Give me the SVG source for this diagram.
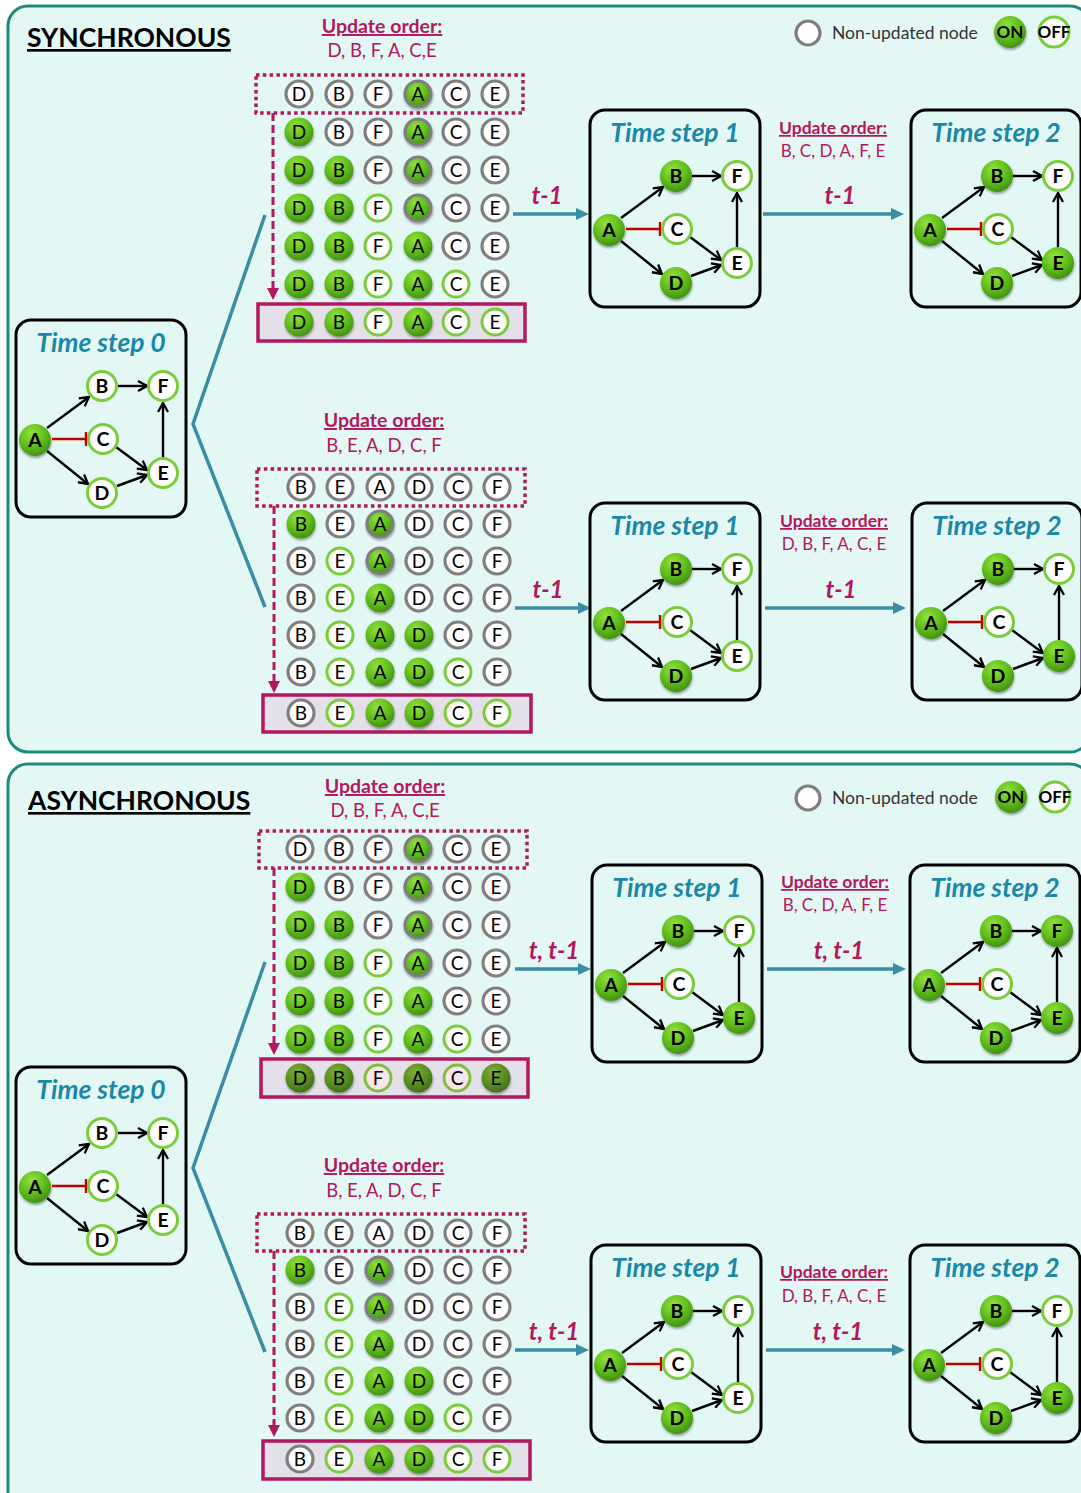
<svg xmlns="http://www.w3.org/2000/svg" width="1081" height="1493" viewBox="0 0 1081 1493">
<defs>
  <radialGradient id="gOn" cx="40%" cy="30%" r="75%">
    <stop offset="0" stop-color="#92e23e"/>
    <stop offset="0.55" stop-color="#60bd1c"/>
    <stop offset="1" stop-color="#3d8c10"/>
  </radialGradient>
  <radialGradient id="gDim" cx="40%" cy="30%" r="75%">
    <stop offset="0" stop-color="#7fae3a"/>
    <stop offset="0.55" stop-color="#5a8f22"/>
    <stop offset="1" stop-color="#3f6c17"/>
  </radialGradient>
  <filter id="sh" x="-30%" y="-30%" width="160%" height="170%">
    <feDropShadow dx="0.5" dy="2" stdDeviation="1.3" flood-color="#000" flood-opacity="0.35"/>
  </filter>
  <marker id="ah" viewBox="0 0 12 12" refX="10.5" refY="6" markerWidth="12" markerHeight="12" markerUnits="userSpaceOnUse" orient="auto">
    <path d="M1.5,1 L10.5,6 L1.5,11" fill="none" stroke="#000" stroke-width="2.3"/>
  </marker>
  <marker id="tah" viewBox="0 0 13 12" refX="1" refY="6" markerWidth="13" markerHeight="12" markerUnits="userSpaceOnUse" orient="auto">
    <path d="M0,0 L13,6 L0,12 z" fill="#3a8da6"/>
  </marker>
  <marker id="dah" viewBox="0 0 12 12" refX="1" refY="6" markerWidth="12" markerHeight="12" markerUnits="userSpaceOnUse" orient="auto">
    <path d="M0,0 L12,6 L0,12 z" fill="#b3175d"/>
  </marker>
  <style>
    .panel{fill:#e3f8f5;stroke:#1e8a7c;stroke-width:3}
    .head{font-family:Lato,"Liberation Sans",sans-serif;font-weight:bold;font-size:26.5px;fill:#000;text-decoration:underline}
    .lg{font-family:Lato,"Liberation Sans",sans-serif;font-size:17.5px;fill:#333}
    .lgb{font-family:Lato,"Liberation Sans",sans-serif;font-weight:bold;font-size:17px;fill:#000;text-anchor:middle}
    .on{fill:url(#gOn);filter:url(#sh)}
    .dim{fill:url(#gDim);filter:url(#sh)}
    .off{fill:#fff;stroke:#7acc3a;stroke-width:3}
    .offd{fill:#f8e4ee;stroke:#7fbf3a;stroke-width:3}
    .nu{fill:#fff;stroke:#7f7f7f;stroke-width:3.2}
    .nuon{fill:url(#gOn);stroke:#7f7f7f;stroke-width:3.2;filter:url(#sh)}
    .grid text{font-family:Lato,"Liberation Sans",sans-serif;font-size:19px;fill:#000;text-anchor:middle}
    .node text{font-family:Lato,"Liberation Sans",sans-serif;font-weight:bold;font-size:19.5px;fill:#000;text-anchor:middle}
    .box{fill:none;stroke:#000;stroke-width:3}
    .ttl{font-family:Lato,"Liberation Sans",sans-serif;font-style:italic;font-weight:bold;font-size:26.5px;fill:#1a88a6;text-anchor:middle}
    .uo{font-family:Lato,"Liberation Sans",sans-serif;font-weight:bold;font-size:19.5px;fill:#b3175d;text-anchor:middle;text-decoration:underline}
    .seq{font-family:Lato,"Liberation Sans",sans-serif;font-size:18.5px;fill:#b3175d;text-anchor:middle}
    .uo2{font-family:Lato,"Liberation Sans",sans-serif;font-weight:bold;font-size:17.5px;fill:#b3175d;text-anchor:middle;text-decoration:underline}
    .seq2{font-family:Lato,"Liberation Sans",sans-serif;font-size:17px;fill:#b3175d;text-anchor:middle}
    .tl{font-family:Lato,"Liberation Sans",sans-serif;font-style:italic;font-weight:bold;font-size:24px;fill:#b3175d;text-anchor:middle}
    .teal{fill:none;stroke:#3a8da6;stroke-width:3.5}
    .edge{fill:none;stroke:#000;stroke-width:2.4;marker-end:url(#ah)}
    .inh{fill:none;stroke:#c00000;stroke-width:2.4}
    .dot{fill:none;stroke:#b3175d;stroke-width:3.5;stroke-dasharray:3.5 3.3}
    .sel{fill:#e4e0ea;stroke:#b3175d;stroke-width:3.5}
    .darr{fill:none;stroke:#b3175d;stroke-width:3;stroke-dasharray:8 4;marker-end:url(#dah)}
  </style>
</defs>

<!-- panels -->
<rect class="panel" x="8" y="6" width="1082" height="746" rx="20"/>
<rect class="panel" x="8" y="764" width="1082" height="760" rx="20"/>

<text class="head" x="27" y="47">SYNCHRONOUS</text>
<text class="head" x="28" y="810">ASYNCHRONOUS</text>

<!-- legends -->
<g id="legend-sync">
  <circle class="nu" cx="808" cy="33" r="12"/>
  <text class="lg" x="832" y="39">Non-updated node</text>
  <circle class="on" cx="1010" cy="32" r="16"/>
  <text class="lgb" x="1010" y="38">ON</text>
  <circle class="off" cx="1054" cy="32" r="15"/>
  <text class="lgb" x="1054" y="38">OFF</text>
</g>
<g id="legend-async">
  <circle class="nu" cx="808" cy="798" r="12"/>
  <text class="lg" x="832" y="804">Non-updated node</text>
  <circle class="on" cx="1011" cy="797" r="16"/>
  <text class="lgb" x="1011" y="803">ON</text>
  <circle class="off" cx="1055" cy="797" r="15"/>
  <text class="lgb" x="1055" y="803">OFF</text>
</g>

<!-- connectors -->
<g id="connectors">
  <path class="teal" d="M265,215 L193,424 L265,607"/>
  <path class="teal" d="M265,962 L193,1168 L265,1352"/>
  <path class="teal" d="M513,214 H577" marker-end="url(#tah)"/>
  <path class="teal" d="M763,214 H892" marker-end="url(#tah)"/>
  <path class="teal" d="M515,608 H579" marker-end="url(#tah)"/>
  <path class="teal" d="M765,608 H894" marker-end="url(#tah)"/>
  <path class="teal" d="M515,969 H579" marker-end="url(#tah)"/>
  <path class="teal" d="M767,969 H894" marker-end="url(#tah)"/>
  <path class="teal" d="M515,1350 H577" marker-end="url(#tah)"/>
  <path class="teal" d="M766,1350 H893" marker-end="url(#tah)"/>
  <path class="darr" d="M273,113 V289"/>
  <path class="darr" d="M274,506 V682"/>
  <path class="darr" d="M274,868 V1044"/>
  <path class="darr" d="M274,1251 V1426"/>
</g>

<!-- connector labels -->
<g id="labels">
  <text class="tl" x="547" y="204">t-1</text>
  <text class="tl" x="840" y="204">t-1</text>
  <text class="tl" x="548" y="598">t-1</text>
  <text class="tl" x="841" y="598">t-1</text>
  <text class="tl" x="554" y="959">t, t-1</text>
  <text class="tl" x="839" y="959">t, t-1</text>
  <text class="tl" x="554" y="1340">t, t-1</text>
  <text class="tl" x="838" y="1340">t, t-1</text>

  <text class="uo" x="382" y="33">Update order:</text>
  <text class="seq" x="382" y="57">D, B, F, A, C,E</text>
  <text class="uo" x="384" y="427">Update order:</text>
  <text class="seq" x="384" y="452">B, E, A, D, C, F</text>
  <text class="uo" x="385" y="793">Update order:</text>
  <text class="seq" x="385" y="817">D, B, F, A, C,E</text>
  <text class="uo" x="384" y="1172">Update order:</text>
  <text class="seq" x="384" y="1197">B, E, A, D, C, F</text>

  <text class="uo2" x="833" y="134">Update order:</text>
  <text class="seq2" x="833" y="157">B, C, D, A, F, E</text>
  <text class="uo2" x="834" y="527">Update order:</text>
  <text class="seq2" x="834" y="550">D, B, F, A, C, E</text>
  <text class="uo2" x="835" y="888">Update order:</text>
  <text class="seq2" x="835" y="911">B, C, D, A, F, E</text>
  <text class="uo2" x="834" y="1278">Update order:</text>
  <text class="seq2" x="834" y="1302">D, B, F, A, C, E</text>
</g>

<!-- synchronous, order D B F A C E -->
<g id="grid-sync-1" class="grid">
  <rect class="dot" x="256" y="75" width="267" height="38"/>
  <rect class="sel" x="258" y="304" width="267" height="37"/>
  <g transform="translate(0,94)">
    <circle class="nu" cx="299" r="13"/><text x="299" y="7">D</text>
    <circle class="nu" cx="339" r="13"/><text x="339" y="7">B</text>
    <circle class="nu" cx="378" r="13"/><text x="378" y="7">F</text>
    <circle class="nuon" cx="418" r="13"/><text x="418" y="7">A</text>
    <circle class="nu" cx="456" r="13"/><text x="456" y="7">C</text>
    <circle class="nu" cx="495" r="13"/><text x="495" y="7">E</text>
  </g>
  <g transform="translate(0,132)">
    <circle class="on" cx="299" r="14.5"/><text x="299" y="7">D</text>
    <circle class="nu" cx="339" r="13"/><text x="339" y="7">B</text>
    <circle class="nu" cx="378" r="13"/><text x="378" y="7">F</text>
    <circle class="nuon" cx="418" r="13"/><text x="418" y="7">A</text>
    <circle class="nu" cx="456" r="13"/><text x="456" y="7">C</text>
    <circle class="nu" cx="495" r="13"/><text x="495" y="7">E</text>
  </g>
  <g transform="translate(0,170)">
    <circle class="on" cx="299" r="14.5"/><text x="299" y="7">D</text>
    <circle class="on" cx="339" r="14.5"/><text x="339" y="7">B</text>
    <circle class="nu" cx="378" r="13"/><text x="378" y="7">F</text>
    <circle class="nuon" cx="418" r="13"/><text x="418" y="7">A</text>
    <circle class="nu" cx="456" r="13"/><text x="456" y="7">C</text>
    <circle class="nu" cx="495" r="13"/><text x="495" y="7">E</text>
  </g>
  <g transform="translate(0,208)">
    <circle class="on" cx="299" r="14.5"/><text x="299" y="7">D</text>
    <circle class="on" cx="339" r="14.5"/><text x="339" y="7">B</text>
    <circle class="off" cx="378" r="13"/><text x="378" y="7">F</text>
    <circle class="nuon" cx="418" r="13"/><text x="418" y="7">A</text>
    <circle class="nu" cx="456" r="13"/><text x="456" y="7">C</text>
    <circle class="nu" cx="495" r="13"/><text x="495" y="7">E</text>
  </g>
  <g transform="translate(0,246)">
    <circle class="on" cx="299" r="14.5"/><text x="299" y="7">D</text>
    <circle class="on" cx="339" r="14.5"/><text x="339" y="7">B</text>
    <circle class="off" cx="378" r="13"/><text x="378" y="7">F</text>
    <circle class="on" cx="418" r="14.5"/><text x="418" y="7">A</text>
    <circle class="nu" cx="456" r="13"/><text x="456" y="7">C</text>
    <circle class="nu" cx="495" r="13"/><text x="495" y="7">E</text>
  </g>
  <g transform="translate(0,284)">
    <circle class="on" cx="299" r="14.5"/><text x="299" y="7">D</text>
    <circle class="on" cx="339" r="14.5"/><text x="339" y="7">B</text>
    <circle class="off" cx="378" r="13"/><text x="378" y="7">F</text>
    <circle class="on" cx="418" r="14.5"/><text x="418" y="7">A</text>
    <circle class="off" cx="456" r="13"/><text x="456" y="7">C</text>
    <circle class="nu" cx="495" r="13"/><text x="495" y="7">E</text>
  </g>
  <g transform="translate(0,322)">
    <circle class="on" cx="299" r="14.5"/><text x="299" y="7">D</text>
    <circle class="on" cx="339" r="14.5"/><text x="339" y="7">B</text>
    <circle class="off" cx="378" r="13"/><text x="378" y="7">F</text>
    <circle class="on" cx="418" r="14.5"/><text x="418" y="7">A</text>
    <circle class="off" cx="456" r="13"/><text x="456" y="7">C</text>
    <circle class="off" cx="495" r="13"/><text x="495" y="7">E</text>
  </g>
</g>

<!-- synchronous, order B E A D C F -->
<g id="grid-sync-2" class="grid">
  <rect class="dot" x="257" y="469" width="268" height="37"/>
  <rect class="sel" x="263" y="695" width="268" height="37"/>
  <g transform="translate(0,487)">
    <circle class="nu" cx="301" r="13"/><text x="301" y="7">B</text>
    <circle class="nu" cx="340" r="13"/><text x="340" y="7">E</text>
    <circle class="nu" cx="380" r="13"/><text x="380" y="7">A</text>
    <circle class="nu" cx="419" r="13"/><text x="419" y="7">D</text>
    <circle class="nu" cx="458" r="13"/><text x="458" y="7">C</text>
    <circle class="nu" cx="497" r="13"/><text x="497" y="7">F</text>
  </g>
  <g transform="translate(0,524)">
    <circle class="on" cx="301" r="14.5"/><text x="301" y="7">B</text>
    <circle class="nu" cx="340" r="13"/><text x="340" y="7">E</text>
    <circle class="nuon" cx="380" r="13"/><text x="380" y="7">A</text>
    <circle class="nu" cx="419" r="13"/><text x="419" y="7">D</text>
    <circle class="nu" cx="458" r="13"/><text x="458" y="7">C</text>
    <circle class="nu" cx="497" r="13"/><text x="497" y="7">F</text>
  </g>
  <g transform="translate(0,561)">
    <circle class="nu" cx="301" r="13"/><text x="301" y="7">B</text>
    <circle class="off" cx="340" r="13"/><text x="340" y="7">E</text>
    <circle class="nuon" cx="380" r="13"/><text x="380" y="7">A</text>
    <circle class="nu" cx="419" r="13"/><text x="419" y="7">D</text>
    <circle class="nu" cx="458" r="13"/><text x="458" y="7">C</text>
    <circle class="nu" cx="497" r="13"/><text x="497" y="7">F</text>
  </g>
  <g transform="translate(0,598)">
    <circle class="nu" cx="301" r="13"/><text x="301" y="7">B</text>
    <circle class="off" cx="340" r="13"/><text x="340" y="7">E</text>
    <circle class="on" cx="380" r="14.5"/><text x="380" y="7">A</text>
    <circle class="nu" cx="419" r="13"/><text x="419" y="7">D</text>
    <circle class="nu" cx="458" r="13"/><text x="458" y="7">C</text>
    <circle class="nu" cx="497" r="13"/><text x="497" y="7">F</text>
  </g>
  <g transform="translate(0,635)">
    <circle class="nu" cx="301" r="13"/><text x="301" y="7">B</text>
    <circle class="off" cx="340" r="13"/><text x="340" y="7">E</text>
    <circle class="on" cx="380" r="14.5"/><text x="380" y="7">A</text>
    <circle class="on" cx="419" r="14.5"/><text x="419" y="7">D</text>
    <circle class="nu" cx="458" r="13"/><text x="458" y="7">C</text>
    <circle class="nu" cx="497" r="13"/><text x="497" y="7">F</text>
  </g>
  <g transform="translate(0,672)">
    <circle class="nu" cx="301" r="13"/><text x="301" y="7">B</text>
    <circle class="off" cx="340" r="13"/><text x="340" y="7">E</text>
    <circle class="on" cx="380" r="14.5"/><text x="380" y="7">A</text>
    <circle class="on" cx="419" r="14.5"/><text x="419" y="7">D</text>
    <circle class="off" cx="458" r="13"/><text x="458" y="7">C</text>
    <circle class="nu" cx="497" r="13"/><text x="497" y="7">F</text>
  </g>
  <g transform="translate(0,713)">
    <circle class="nu" cx="301" r="13"/><text x="301" y="7">B</text>
    <circle class="off" cx="340" r="13"/><text x="340" y="7">E</text>
    <circle class="on" cx="380" r="14.5"/><text x="380" y="7">A</text>
    <circle class="on" cx="419" r="14.5"/><text x="419" y="7">D</text>
    <circle class="off" cx="458" r="13"/><text x="458" y="7">C</text>
    <circle class="off" cx="497" r="13"/><text x="497" y="7">F</text>
  </g>
</g>

<!-- asynchronous, order D B F A C E -->
<g id="grid-async-1" class="grid">
  <rect class="dot" x="259" y="831" width="268" height="37"/>
  <rect class="sel" x="261" y="1059" width="267" height="38"/>
  <g transform="translate(0,849)">
    <circle class="nu" cx="300" r="13"/><text x="300" y="7">D</text>
    <circle class="nu" cx="339" r="13"/><text x="339" y="7">B</text>
    <circle class="nu" cx="378" r="13"/><text x="378" y="7">F</text>
    <circle class="nuon" cx="418" r="13"/><text x="418" y="7">A</text>
    <circle class="nu" cx="457" r="13"/><text x="457" y="7">C</text>
    <circle class="nu" cx="496" r="13"/><text x="496" y="7">E</text>
  </g>
  <g transform="translate(0,887)">
    <circle class="on" cx="300" r="14.5"/><text x="300" y="7">D</text>
    <circle class="nu" cx="339" r="13"/><text x="339" y="7">B</text>
    <circle class="nu" cx="378" r="13"/><text x="378" y="7">F</text>
    <circle class="nuon" cx="418" r="13"/><text x="418" y="7">A</text>
    <circle class="nu" cx="457" r="13"/><text x="457" y="7">C</text>
    <circle class="nu" cx="496" r="13"/><text x="496" y="7">E</text>
  </g>
  <g transform="translate(0,925)">
    <circle class="on" cx="300" r="14.5"/><text x="300" y="7">D</text>
    <circle class="on" cx="339" r="14.5"/><text x="339" y="7">B</text>
    <circle class="nu" cx="378" r="13"/><text x="378" y="7">F</text>
    <circle class="nuon" cx="418" r="13"/><text x="418" y="7">A</text>
    <circle class="nu" cx="457" r="13"/><text x="457" y="7">C</text>
    <circle class="nu" cx="496" r="13"/><text x="496" y="7">E</text>
  </g>
  <g transform="translate(0,963)">
    <circle class="on" cx="300" r="14.5"/><text x="300" y="7">D</text>
    <circle class="on" cx="339" r="14.5"/><text x="339" y="7">B</text>
    <circle class="off" cx="378" r="13"/><text x="378" y="7">F</text>
    <circle class="nuon" cx="418" r="13"/><text x="418" y="7">A</text>
    <circle class="nu" cx="457" r="13"/><text x="457" y="7">C</text>
    <circle class="nu" cx="496" r="13"/><text x="496" y="7">E</text>
  </g>
  <g transform="translate(0,1001)">
    <circle class="on" cx="300" r="14.5"/><text x="300" y="7">D</text>
    <circle class="on" cx="339" r="14.5"/><text x="339" y="7">B</text>
    <circle class="off" cx="378" r="13"/><text x="378" y="7">F</text>
    <circle class="on" cx="418" r="14.5"/><text x="418" y="7">A</text>
    <circle class="nu" cx="457" r="13"/><text x="457" y="7">C</text>
    <circle class="nu" cx="496" r="13"/><text x="496" y="7">E</text>
  </g>
  <g transform="translate(0,1039)">
    <circle class="on" cx="300" r="14.5"/><text x="300" y="7">D</text>
    <circle class="on" cx="339" r="14.5"/><text x="339" y="7">B</text>
    <circle class="off" cx="378" r="13"/><text x="378" y="7">F</text>
    <circle class="on" cx="418" r="14.5"/><text x="418" y="7">A</text>
    <circle class="off" cx="457" r="13"/><text x="457" y="7">C</text>
    <circle class="nu" cx="496" r="13"/><text x="496" y="7">E</text>
  </g>
  <g transform="translate(0,1078)">
    <circle class="dim" cx="300" r="14.5"/><text x="300" y="7">D</text>
    <circle class="dim" cx="339" r="14.5"/><text x="339" y="7">B</text>
    <circle class="offd" cx="378" r="13"/><text x="378" y="7">F</text>
    <circle class="dim" cx="418" r="14.5"/><text x="418" y="7">A</text>
    <circle class="offd" cx="457" r="13"/><text x="457" y="7">C</text>
    <circle class="dim" cx="496" r="14.5"/><text x="496" y="7">E</text>
  </g>
</g>

<!-- asynchronous, order B E A D C F -->
<g id="grid-async-2" class="grid">
  <rect class="dot" x="257" y="1214" width="268" height="37"/>
  <rect class="sel" x="263" y="1441" width="267" height="38"/>
  <g transform="translate(0,1233)">
    <circle class="nu" cx="300" r="13"/><text x="300" y="7">B</text>
    <circle class="nu" cx="339" r="13"/><text x="339" y="7">E</text>
    <circle class="nu" cx="379" r="13"/><text x="379" y="7">A</text>
    <circle class="nu" cx="419" r="13"/><text x="419" y="7">D</text>
    <circle class="nu" cx="458" r="13"/><text x="458" y="7">C</text>
    <circle class="nu" cx="497" r="13"/><text x="497" y="7">F</text>
  </g>
  <g transform="translate(0,1270)">
    <circle class="on" cx="300" r="14.5"/><text x="300" y="7">B</text>
    <circle class="nu" cx="339" r="13"/><text x="339" y="7">E</text>
    <circle class="nuon" cx="379" r="13"/><text x="379" y="7">A</text>
    <circle class="nu" cx="419" r="13"/><text x="419" y="7">D</text>
    <circle class="nu" cx="458" r="13"/><text x="458" y="7">C</text>
    <circle class="nu" cx="497" r="13"/><text x="497" y="7">F</text>
  </g>
  <g transform="translate(0,1307)">
    <circle class="nu" cx="300" r="13"/><text x="300" y="7">B</text>
    <circle class="off" cx="339" r="13"/><text x="339" y="7">E</text>
    <circle class="nuon" cx="379" r="13"/><text x="379" y="7">A</text>
    <circle class="nu" cx="419" r="13"/><text x="419" y="7">D</text>
    <circle class="nu" cx="458" r="13"/><text x="458" y="7">C</text>
    <circle class="nu" cx="497" r="13"/><text x="497" y="7">F</text>
  </g>
  <g transform="translate(0,1344)">
    <circle class="nu" cx="300" r="13"/><text x="300" y="7">B</text>
    <circle class="off" cx="339" r="13"/><text x="339" y="7">E</text>
    <circle class="on" cx="379" r="14.5"/><text x="379" y="7">A</text>
    <circle class="nu" cx="419" r="13"/><text x="419" y="7">D</text>
    <circle class="nu" cx="458" r="13"/><text x="458" y="7">C</text>
    <circle class="nu" cx="497" r="13"/><text x="497" y="7">F</text>
  </g>
  <g transform="translate(0,1381)">
    <circle class="nu" cx="300" r="13"/><text x="300" y="7">B</text>
    <circle class="off" cx="339" r="13"/><text x="339" y="7">E</text>
    <circle class="on" cx="379" r="14.5"/><text x="379" y="7">A</text>
    <circle class="on" cx="419" r="14.5"/><text x="419" y="7">D</text>
    <circle class="nu" cx="458" r="13"/><text x="458" y="7">C</text>
    <circle class="nu" cx="497" r="13"/><text x="497" y="7">F</text>
  </g>
  <g transform="translate(0,1418)">
    <circle class="nu" cx="300" r="13"/><text x="300" y="7">B</text>
    <circle class="off" cx="339" r="13"/><text x="339" y="7">E</text>
    <circle class="on" cx="379" r="14.5"/><text x="379" y="7">A</text>
    <circle class="on" cx="419" r="14.5"/><text x="419" y="7">D</text>
    <circle class="off" cx="458" r="13"/><text x="458" y="7">C</text>
    <circle class="nu" cx="497" r="13"/><text x="497" y="7">F</text>
  </g>
  <g transform="translate(0,1459)">
    <circle class="nu" cx="300" r="13"/><text x="300" y="7">B</text>
    <circle class="off" cx="339" r="13"/><text x="339" y="7">E</text>
    <circle class="on" cx="379" r="14.5"/><text x="379" y="7">A</text>
    <circle class="on" cx="419" r="14.5"/><text x="419" y="7">D</text>
    <circle class="off" cx="458" r="13"/><text x="458" y="7">C</text>
    <circle class="off" cx="497" r="13"/><text x="497" y="7">F</text>
  </g>
</g>

<!-- network snapshots: edges first, then nodes -->
<g id="sync-ts0" transform="translate(16,320)">
  <rect class="box" width="170" height="197" rx="15"/>
  <text class="ttl" x="85" y="32">Time step 0</text>
  <g class="edges">
    <path class="edge" d="M31,108 L73,77"/><path class="edge" d="M102,66 H131"/>
    <path class="inh" d="M36,119 H70 M70,112 V126"/><path class="edge" d="M31,131 L72,164"/>
    <path class="edge" d="M100,127 L131,150"/><path class="edge" d="M101,166 L131,155"/>
    <path class="edge" d="M147,137 V83"/>
  </g>
  <g id="s0-A" class="node"><circle class="on" cx="19" cy="120" r="16"/><text x="19" y="127">A</text></g>
  <g id="s0-B" class="node"><circle class="off" cx="86" cy="66" r="14.5"/><text x="86" y="73">B</text></g>
  <g id="s0-F" class="node"><circle class="off" cx="147" cy="66" r="14.5"/><text x="147" y="73">F</text></g>
  <g id="s0-C" class="node"><circle class="off" cx="87" cy="119" r="14.5"/><text x="87" y="126">C</text></g>
  <g id="s0-E" class="node"><circle class="off" cx="147" cy="153" r="14.5"/><text x="147" y="160">E</text></g>
  <g id="s0-D" class="node"><circle class="off" cx="86" cy="173" r="14.5"/><text x="86" y="180">D</text></g>
</g>

<g id="sync-ts1a" transform="translate(590,110)">
  <rect class="box" width="170" height="197" rx="15"/>
  <text class="ttl" x="85" y="32">Time step 1</text>
  <g class="edges">
    <path class="edge" d="M31,108 L73,77"/><path class="edge" d="M102,66 H131"/>
    <path class="inh" d="M36,119 H70 M70,112 V126"/><path class="edge" d="M31,131 L72,164"/>
    <path class="edge" d="M100,127 L131,150"/><path class="edge" d="M101,166 L131,155"/>
    <path class="edge" d="M147,137 V83"/>
  </g>
  <g id="s1a-A" class="node"><circle class="on" cx="19" cy="120" r="16"/><text x="19" y="127">A</text></g>
  <g id="s1a-B" class="node"><circle class="on" cx="86" cy="66" r="16"/><text x="86" y="73">B</text></g>
  <g id="s1a-F" class="node"><circle class="off" cx="147" cy="66" r="14.5"/><text x="147" y="73">F</text></g>
  <g id="s1a-C" class="node"><circle class="off" cx="87" cy="119" r="14.5"/><text x="87" y="126">C</text></g>
  <g id="s1a-E" class="node"><circle class="off" cx="147" cy="153" r="14.5"/><text x="147" y="160">E</text></g>
  <g id="s1a-D" class="node"><circle class="on" cx="86" cy="173" r="16"/><text x="86" y="180">D</text></g>
</g>

<g id="sync-ts2a" transform="translate(911,110)">
  <rect class="box" width="170" height="197" rx="15"/>
  <text class="ttl" x="85" y="32">Time step 2</text>
  <g class="edges">
    <path class="edge" d="M31,108 L73,77"/><path class="edge" d="M102,66 H131"/>
    <path class="inh" d="M36,119 H70 M70,112 V126"/><path class="edge" d="M31,131 L72,164"/>
    <path class="edge" d="M100,127 L131,150"/><path class="edge" d="M101,166 L131,155"/>
    <path class="edge" d="M147,137 V83"/>
  </g>
  <g id="s2a-A" class="node"><circle class="on" cx="19" cy="120" r="16"/><text x="19" y="127">A</text></g>
  <g id="s2a-B" class="node"><circle class="on" cx="86" cy="66" r="16"/><text x="86" y="73">B</text></g>
  <g id="s2a-F" class="node"><circle class="off" cx="147" cy="66" r="14.5"/><text x="147" y="73">F</text></g>
  <g id="s2a-C" class="node"><circle class="off" cx="87" cy="119" r="14.5"/><text x="87" y="126">C</text></g>
  <g id="s2a-E" class="node"><circle class="on" cx="147" cy="153" r="16"/><text x="147" y="160">E</text></g>
  <g id="s2a-D" class="node"><circle class="on" cx="86" cy="173" r="16"/><text x="86" y="180">D</text></g>
</g>

<g id="sync-ts1b" transform="translate(590,503)">
  <rect class="box" width="170" height="197" rx="15"/>
  <text class="ttl" x="85" y="32">Time step 1</text>
  <g class="edges">
    <path class="edge" d="M31,108 L73,77"/><path class="edge" d="M102,66 H131"/>
    <path class="inh" d="M36,119 H70 M70,112 V126"/><path class="edge" d="M31,131 L72,164"/>
    <path class="edge" d="M100,127 L131,150"/><path class="edge" d="M101,166 L131,155"/>
    <path class="edge" d="M147,137 V83"/>
  </g>
  <g id="s1b-A" class="node"><circle class="on" cx="19" cy="120" r="16"/><text x="19" y="127">A</text></g>
  <g id="s1b-B" class="node"><circle class="on" cx="86" cy="66" r="16"/><text x="86" y="73">B</text></g>
  <g id="s1b-F" class="node"><circle class="off" cx="147" cy="66" r="14.5"/><text x="147" y="73">F</text></g>
  <g id="s1b-C" class="node"><circle class="off" cx="87" cy="119" r="14.5"/><text x="87" y="126">C</text></g>
  <g id="s1b-E" class="node"><circle class="off" cx="147" cy="153" r="14.5"/><text x="147" y="160">E</text></g>
  <g id="s1b-D" class="node"><circle class="on" cx="86" cy="173" r="16"/><text x="86" y="180">D</text></g>
</g>

<g id="sync-ts2b" transform="translate(912,503)">
  <rect class="box" width="170" height="197" rx="15"/>
  <text class="ttl" x="85" y="32">Time step 2</text>
  <g class="edges">
    <path class="edge" d="M31,108 L73,77"/><path class="edge" d="M102,66 H131"/>
    <path class="inh" d="M36,119 H70 M70,112 V126"/><path class="edge" d="M31,131 L72,164"/>
    <path class="edge" d="M100,127 L131,150"/><path class="edge" d="M101,166 L131,155"/>
    <path class="edge" d="M147,137 V83"/>
  </g>
  <g id="s2b-A" class="node"><circle class="on" cx="19" cy="120" r="16"/><text x="19" y="127">A</text></g>
  <g id="s2b-B" class="node"><circle class="on" cx="86" cy="66" r="16"/><text x="86" y="73">B</text></g>
  <g id="s2b-F" class="node"><circle class="off" cx="147" cy="66" r="14.5"/><text x="147" y="73">F</text></g>
  <g id="s2b-C" class="node"><circle class="off" cx="87" cy="119" r="14.5"/><text x="87" y="126">C</text></g>
  <g id="s2b-E" class="node"><circle class="on" cx="147" cy="153" r="16"/><text x="147" y="160">E</text></g>
  <g id="s2b-D" class="node"><circle class="on" cx="86" cy="173" r="16"/><text x="86" y="180">D</text></g>
</g>

<g id="async-ts0" transform="translate(16,1067)">
  <rect class="box" width="170" height="197" rx="15"/>
  <text class="ttl" x="85" y="32">Time step 0</text>
  <g class="edges">
    <path class="edge" d="M31,108 L73,77"/><path class="edge" d="M102,66 H131"/>
    <path class="inh" d="M36,119 H70 M70,112 V126"/><path class="edge" d="M31,131 L72,164"/>
    <path class="edge" d="M100,127 L131,150"/><path class="edge" d="M101,166 L131,155"/>
    <path class="edge" d="M147,137 V83"/>
  </g>
  <g id="a0-A" class="node"><circle class="on" cx="19" cy="120" r="16"/><text x="19" y="127">A</text></g>
  <g id="a0-B" class="node"><circle class="off" cx="86" cy="66" r="14.5"/><text x="86" y="73">B</text></g>
  <g id="a0-F" class="node"><circle class="off" cx="147" cy="66" r="14.5"/><text x="147" y="73">F</text></g>
  <g id="a0-C" class="node"><circle class="off" cx="87" cy="119" r="14.5"/><text x="87" y="126">C</text></g>
  <g id="a0-E" class="node"><circle class="off" cx="147" cy="153" r="14.5"/><text x="147" y="160">E</text></g>
  <g id="a0-D" class="node"><circle class="off" cx="86" cy="173" r="14.5"/><text x="86" y="180">D</text></g>
</g>

<g id="async-ts1a" transform="translate(592,865)">
  <rect class="box" width="170" height="197" rx="15"/>
  <text class="ttl" x="85" y="32">Time step 1</text>
  <g class="edges">
    <path class="edge" d="M31,108 L73,77"/><path class="edge" d="M102,66 H131"/>
    <path class="inh" d="M36,119 H70 M70,112 V126"/><path class="edge" d="M31,131 L72,164"/>
    <path class="edge" d="M100,127 L131,150"/><path class="edge" d="M101,166 L131,155"/>
    <path class="edge" d="M147,137 V83"/>
  </g>
  <g id="a1a-A" class="node"><circle class="on" cx="19" cy="120" r="16"/><text x="19" y="127">A</text></g>
  <g id="a1a-B" class="node"><circle class="on" cx="86" cy="66" r="16"/><text x="86" y="73">B</text></g>
  <g id="a1a-F" class="node"><circle class="off" cx="147" cy="66" r="14.5"/><text x="147" y="73">F</text></g>
  <g id="a1a-C" class="node"><circle class="off" cx="87" cy="119" r="14.5"/><text x="87" y="126">C</text></g>
  <g id="a1a-E" class="node"><circle class="on" cx="147" cy="153" r="16"/><text x="147" y="160">E</text></g>
  <g id="a1a-D" class="node"><circle class="on" cx="86" cy="173" r="16"/><text x="86" y="180">D</text></g>
</g>

<g id="async-ts2a" transform="translate(910,865)">
  <rect class="box" width="170" height="197" rx="15"/>
  <text class="ttl" x="85" y="32">Time step 2</text>
  <g class="edges">
    <path class="edge" d="M31,108 L73,77"/><path class="edge" d="M102,66 H131"/>
    <path class="inh" d="M36,119 H70 M70,112 V126"/><path class="edge" d="M31,131 L72,164"/>
    <path class="edge" d="M100,127 L131,150"/><path class="edge" d="M101,166 L131,155"/>
    <path class="edge" d="M147,137 V83"/>
  </g>
  <g id="a2a-A" class="node"><circle class="on" cx="19" cy="120" r="16"/><text x="19" y="127">A</text></g>
  <g id="a2a-B" class="node"><circle class="on" cx="86" cy="66" r="16"/><text x="86" y="73">B</text></g>
  <g id="a2a-F" class="node"><circle class="on" cx="147" cy="66" r="16"/><text x="147" y="73">F</text></g>
  <g id="a2a-C" class="node"><circle class="off" cx="87" cy="119" r="14.5"/><text x="87" y="126">C</text></g>
  <g id="a2a-E" class="node"><circle class="on" cx="147" cy="153" r="16"/><text x="147" y="160">E</text></g>
  <g id="a2a-D" class="node"><circle class="on" cx="86" cy="173" r="16"/><text x="86" y="180">D</text></g>
</g>

<g id="async-ts1b" transform="translate(591,1245)">
  <rect class="box" width="170" height="197" rx="15"/>
  <text class="ttl" x="85" y="32">Time step 1</text>
  <g class="edges">
    <path class="edge" d="M31,108 L73,77"/><path class="edge" d="M102,66 H131"/>
    <path class="inh" d="M36,119 H70 M70,112 V126"/><path class="edge" d="M31,131 L72,164"/>
    <path class="edge" d="M100,127 L131,150"/><path class="edge" d="M101,166 L131,155"/>
    <path class="edge" d="M147,137 V83"/>
  </g>
  <g id="a1b-A" class="node"><circle class="on" cx="19" cy="120" r="16"/><text x="19" y="127">A</text></g>
  <g id="a1b-B" class="node"><circle class="on" cx="86" cy="66" r="16"/><text x="86" y="73">B</text></g>
  <g id="a1b-F" class="node"><circle class="off" cx="147" cy="66" r="14.5"/><text x="147" y="73">F</text></g>
  <g id="a1b-C" class="node"><circle class="off" cx="87" cy="119" r="14.5"/><text x="87" y="126">C</text></g>
  <g id="a1b-E" class="node"><circle class="off" cx="147" cy="153" r="14.5"/><text x="147" y="160">E</text></g>
  <g id="a1b-D" class="node"><circle class="on" cx="86" cy="173" r="16"/><text x="86" y="180">D</text></g>
</g>

<g id="async-ts2b" transform="translate(910,1245)">
  <rect class="box" width="170" height="197" rx="15"/>
  <text class="ttl" x="85" y="32">Time step 2</text>
  <g class="edges">
    <path class="edge" d="M31,108 L73,77"/><path class="edge" d="M102,66 H131"/>
    <path class="inh" d="M36,119 H70 M70,112 V126"/><path class="edge" d="M31,131 L72,164"/>
    <path class="edge" d="M100,127 L131,150"/><path class="edge" d="M101,166 L131,155"/>
    <path class="edge" d="M147,137 V83"/>
  </g>
  <g id="a2b-A" class="node"><circle class="on" cx="19" cy="120" r="16"/><text x="19" y="127">A</text></g>
  <g id="a2b-B" class="node"><circle class="on" cx="86" cy="66" r="16"/><text x="86" y="73">B</text></g>
  <g id="a2b-F" class="node"><circle class="off" cx="147" cy="66" r="14.5"/><text x="147" y="73">F</text></g>
  <g id="a2b-C" class="node"><circle class="off" cx="87" cy="119" r="14.5"/><text x="87" y="126">C</text></g>
  <g id="a2b-E" class="node"><circle class="on" cx="147" cy="153" r="16"/><text x="147" y="160">E</text></g>
  <g id="a2b-D" class="node"><circle class="on" cx="86" cy="173" r="16"/><text x="86" y="180">D</text></g>
</g>
</svg>
